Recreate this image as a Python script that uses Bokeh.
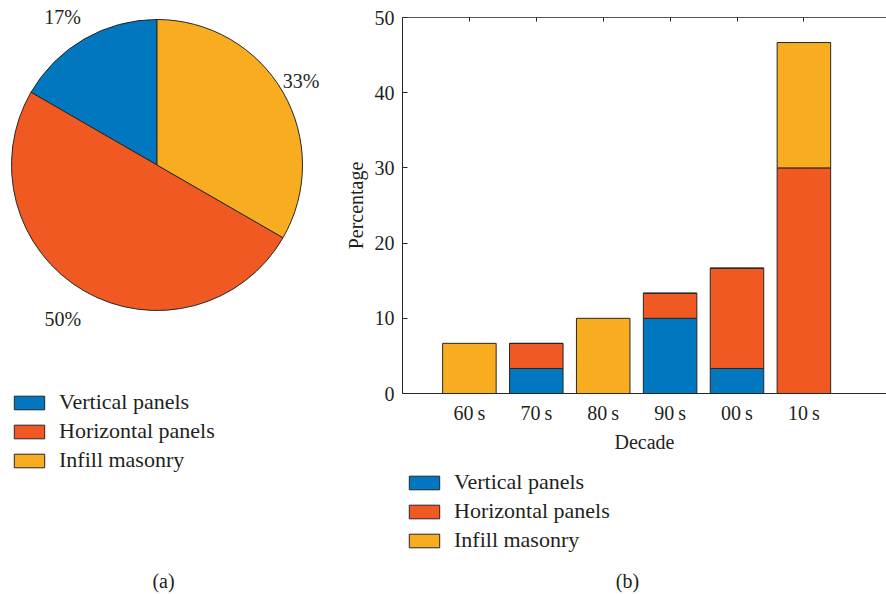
import numpy as np
from bokeh.plotting import figure
from bokeh.layouts import row, column
from bokeh.models import (Range1d, Legend, LegendItem, Label, LinearAxis,
                          FixedTicker, ColumnDataSource)
from bokeh.core.properties import value
from bokeh.embed import file_html
from bokeh.resources import INLINE

# ---------------- data ----------------
types = ["Vertical panels", "Horizontal panels", "Infill masonry"]
colors = ["#0077BE", "#F05A22", "#F8AD20"]
pie_values = [16.67, 50.0, 33.33]

decades = ["60\u2009s", "70\u2009s", "80\u2009s", "90\u2009s", "00\u2009s", "10\u2009s"]
vertical = [0, 3.33, 0, 10.0, 3.33, 0]
horizontal = [0, 3.33, 0, 3.33, 13.33, 30.0]
infill = [6.67, 0, 10.0, 0, 0, 16.67]
y_ticks = [0, 10, 20, 30, 40, 50]

FONT = "Liberation Serif"
TXT = "#231F20"
EDGE = "#262626"
FS = "20px"
FS_LEG = "22px"

W1, W2, H = 340, 546, 594
H_BAR = 460
H_LEG = H - H_BAR


def blank(fig):
    fig.axis.visible = False
    fig.grid.visible = False
    fig.outline_line_color = None


def make_legend(items, loc):
    return Legend(items=items, location=loc, orientation="vertical",
                  glyph_width=38, glyph_height=17, label_standoff=11,
                  spacing=3, padding=0, margin=0,
                  label_text_font=FONT, label_text_font_size=FS_LEG,
                  label_text_color=TXT, border_line_color=None,
                  background_fill_alpha=0)


# ---------------- (a) pie ----------------
pie = figure(width=W1, height=H, x_range=Range1d(0, W1), y_range=Range1d(0, H),
             output_backend="svg", toolbar_location=None, min_border=0,
             frame_align=False)
blank(pie)

cx, cy, R = 156.5, H - 164.5, 145.5
frac = np.array(pie_values) / np.sum(pie_values)
start = np.pi / 2 + 2 * np.pi * np.concatenate([[0], np.cumsum(frac)[:-1]])
end = start + 2 * np.pi * frac
mid = (start + end) / 2
psrc = ColumnDataSource(dict(start=start, end=end, color=colors, label=types))
wedges = pie.wedge(x=cx, y=cy, radius=R, start_angle="start", end_angle="end",
                   fill_color="color", line_color=EDGE, line_width=1, source=psrc)

lsrc = ColumnDataSource(dict(
    x=cx + 1.2 * R * np.cos(mid) - 7,
    y=cy + 1.2 * R * np.sin(mid) - 3,
    t=[f"{round(v)}%" for v in pie_values]))
pie.text(x="x", y="y", text="t", source=lsrc, text_align="center",
         text_baseline="middle", text_font=value(FONT), text_font_size=FS,
         text_color=TXT)

pie.add_layout(make_legend([LegendItem(label=t, renderers=[wedges], index=i)
                            for i, t in enumerate(types)], (10, H - 473)))
pie.add_layout(Label(x=163, y=H - 580, text="(a)", text_align="center",
                     text_baseline="middle", text_font=FONT,
                     text_font_size=FS, text_color=TXT))

# ---------------- (b) stacked bars ----------------
step = 66.9
left_b = 62
frame_w = W2 - left_b
bar = figure(width=W2, height=H_BAR, x_range=Range1d(0, frame_w / step),
             y_range=Range1d(0, 50), output_backend="svg",
             toolbar_location=None, min_border_left=left_b, min_border_right=0,
             min_border_top=17, min_border_bottom=H_BAR - 393,
             frame_align=False)
bar.grid.visible = False
bar.outline_line_color = None

x = list(range(1, len(decades) + 1))
bsrc = ColumnDataSource(dict(x=x, vertical=vertical, horizontal=horizontal,
                             infill=infill))
stack = ["vertical", "horizontal", "infill"]
rs = bar.vbar_stack(stack, x="x", width=0.8, source=bsrc, fill_color=colors,
                    line_color=EDGE, line_width=1)

xa = bar.xaxis[0]
xa.ticker = FixedTicker(ticks=x)
xa.major_label_overrides = {i: d for i, d in zip(x, decades)}
xa.major_tick_in = 0
xa.major_tick_out = 0
xa.minor_tick_in = 0
xa.minor_tick_out = 0
xa.major_label_standoff = 8
xa.axis_label = "Decade"
xa.axis_label_standoff = 4

ya = bar.yaxis[0]
ya.ticker = FixedTicker(ticks=y_ticks)
ya.major_tick_in = 5
ya.major_tick_out = 0
ya.minor_tick_in = 0
ya.minor_tick_out = 0
ya.major_label_standoff = 8
ya.axis_label = "Percentage"
ya.axis_label_standoff = 5

for ax in (xa, ya):
    ax.axis_line_color = EDGE
    ax.major_tick_line_color = EDGE
    ax.major_label_text_font = FONT
    ax.major_label_text_font_size = FS
    ax.major_label_text_color = TXT
    ax.axis_label_text_font = FONT
    ax.axis_label_text_font_size = FS
    ax.axis_label_text_font_style = "normal"
    ax.axis_label_text_color = TXT

top = LinearAxis(ticker=FixedTicker(ticks=x),
                 major_label_overrides={i: "" for i in x},
                 major_label_text_font_size="1px",
                 major_label_standoff=0, major_tick_in=4, major_tick_out=0,
                 minor_tick_in=0, minor_tick_out=0, axis_line_color="#555555",
                 major_tick_line_color=EDGE)
bar.add_layout(top, "above")

# legend + caption strip under the bar chart; legend swatches come from
# styled stand-in renderers that hold no drawable data
leg = figure(width=W2, height=H_LEG, x_range=Range1d(0, W2),
             y_range=Range1d(0, H_LEG), output_backend="svg",
             toolbar_location=None, min_border=0, frame_align=False)
blank(leg)
nan_src = ColumnDataSource(dict(x=[np.nan], top=[np.nan]))
proxies = [leg.vbar(x="x", top="top", width=1, source=nan_src,
                    fill_color=c, line_color=EDGE, line_width=1)
           for c in colors]
leg.add_layout(make_legend([LegendItem(label=t, renderers=[r])
                            for t, r in zip(types, proxies)],
                           (405 - W1, H - 553)))
leg.add_layout(Label(x=627 - W1, y=H - 580, text="(b)", text_align="center",
                     text_baseline="middle", text_font=FONT,
                     text_font_size=FS, text_color=TXT))

layout = row(pie, column(bar, leg, spacing=0), spacing=0)
open("out.html", "w").write(file_html(layout, INLINE))
